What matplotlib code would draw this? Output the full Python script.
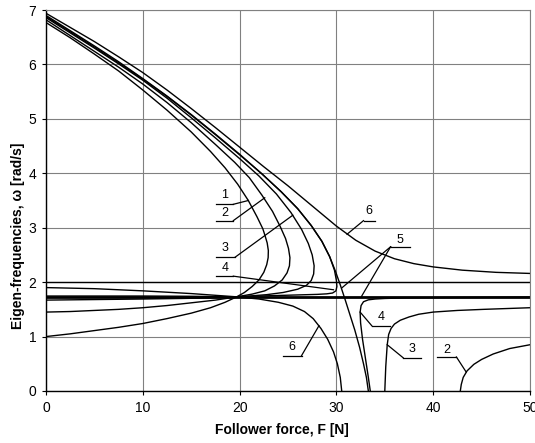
import matplotlib
matplotlib.use("Agg")
import matplotlib.pyplot as plt

plt.rcParams['font.family'] = ['Liberation Sans', 'DejaVu Sans']

# curves: follower force F [N] -> eigen-frequency w [rad/s]
# case 1..4: upper branch runs into a flutter loop and comes back as lower branch
case1_F = [0, 2.5, 5, 7.5, 10, 12.5, 15, 17, 18.5, 19.8, 20.9, 21.8, 22.4, 22.6, 22.85, 22.97,
           22.95, 22.8, 22.5, 22.0, 21.3, 20.5, 19.7, 18.5, 17, 15, 12.5, 10, 7.5, 5, 2.5, 0]
case1_w = [6.77, 6.49, 6.19, 5.88, 5.53, 5.16, 4.76, 4.40, 4.1, 3.8, 3.5, 3.2, 2.98, 2.87, 2.72, 2.58,
           2.45, 2.32, 2.18, 2.04, 1.92, 1.81, 1.73, 1.63, 1.53, 1.43, 1.33, 1.24, 1.17, 1.11, 1.05, 1.0]

case2_F = [0, 2.5, 5, 7.5, 10, 12.5, 15, 17.5, 19.5, 21, 22.3, 23.4, 24.2, 24.75, 25.05, 25.2,
           25.15, 24.9, 24.4, 23.6, 22.6, 21.3, 19.7, 17.5, 15, 12.5, 10, 7.5, 5, 2.5, 0]
case2_w = [6.82, 6.53, 6.24, 5.95, 5.64, 5.30, 4.93, 4.53, 4.2, 3.92, 3.6, 3.3, 3.02, 2.8, 2.62, 2.45,
           2.3, 2.17, 2.04, 1.93, 1.84, 1.78, 1.73, 1.67, 1.62, 1.57, 1.53, 1.50, 1.48, 1.46, 1.45]
case2b_F = [42.8, 42.9, 43.1, 43.5, 44.2, 45, 46.2, 47.9, 50]
case2b_w = [0, 0.12, 0.25, 0.37, 0.49, 0.58, 0.68, 0.78, 0.85]

case3_F = [0, 2.5, 5, 7.5, 10, 12.5, 15, 17.5, 20, 22, 23.8, 25.3, 26.4, 27.1, 27.5, 27.7,
           27.65, 27.4, 26.9, 26.0, 24.5, 22.8, 21, 19.7, 17, 14, 10, 5, 0]
case3_w = [6.86, 6.58, 6.30, 6.01, 5.71, 5.38, 5.02, 4.65, 4.27, 3.95, 3.62, 3.28, 2.97, 2.71, 2.5, 2.3,
           2.15, 2.03, 1.94, 1.87, 1.81, 1.77, 1.745, 1.73, 1.71, 1.70, 1.69, 1.68, 1.67]
case3b_F = [35.0, 35.1, 35.25, 35.4, 35.65, 36, 36.6, 37.5, 38.5, 40, 42.5, 45.2, 50]
case3b_w = [0, 0.45, 0.85, 1.04, 1.15, 1.23, 1.30, 1.36, 1.41, 1.45, 1.48, 1.50, 1.53]

case4_F = [0, 2.5, 5, 7.5, 10, 12.5, 15, 17.5, 20, 22.3, 24.3, 26.0, 27.4, 28.5, 29.3, 29.8, 30.0,
           30.05, 29.95, 29.6, 29, 28, 26, 23, 19.7, 15, 10, 5, 0]
case4_w = [6.88, 6.60, 6.32, 6.03, 5.73, 5.41, 5.07, 4.71, 4.34, 3.99, 3.66, 3.35, 3.04, 2.75, 2.47, 2.22, 2.03,
           1.92, 1.84, 1.80, 1.785, 1.775, 1.765, 1.75, 1.73, 1.74, 1.745, 1.745, 1.745]
case4b_F = [33.5, 33.3, 33.0, 32.7, 32.5, 32.45, 32.55, 32.8, 33.3, 34, 35, 37, 40, 45, 50]
case4b_w = [0, 0.25, 0.6, 0.95, 1.25, 1.45, 1.57, 1.64, 1.675, 1.69, 1.70, 1.71, 1.715, 1.72, 1.725]

case5_F = [0, 2.5, 5, 7.5, 10, 12.5, 15, 17.5, 20, 22.3, 24.3, 26.0, 27.4, 28.5, 29.3, 29.9,
           30.4, 30.9, 31.4, 31.9, 32.4, 32.8, 33.1, 33.3]
case5_w = [6.90, 6.62, 6.34, 6.05, 5.74, 5.42, 5.08, 4.72, 4.35, 3.99, 3.66, 3.35, 3.04, 2.75, 2.47, 2.2,
           1.95, 1.68, 1.4, 1.12, 0.8, 0.5, 0.25, 0]

case6_F = [0, 2.5, 5, 7.5, 10, 12.5, 15, 17.5, 20, 22.5, 25, 27.5, 30, 32, 34, 36, 38, 40, 43, 46.5, 50]
case6_w = [6.94, 6.68, 6.42, 6.14, 5.85, 5.53, 5.19, 4.84, 4.48, 4.12, 3.77, 3.40, 3.03, 2.77, 2.57,
           2.43, 2.34, 2.28, 2.22, 2.18, 2.16]
case6b_F = [0, 5, 10, 15, 19.7, 22, 24, 25.5, 26.7, 27.6, 28.4, 29.1, 29.7, 30.1, 30.4, 30.55]
case6b_w = [1.90, 1.88, 1.84, 1.79, 1.73, 1.69, 1.63, 1.56, 1.46, 1.33, 1.15, 0.95, 0.72, 0.5, 0.25, 0]

# frequencies that do not depend on F
flat_F = [0, 50]
flat_hi_w = [2.0, 2.0]
flat_lo_w = [1.73, 1.73]

# curve labels: text, text position, underline span, leader end points
label_text = ['1', '2', '3', '4', '6', '5', '4', '3', '2', '6']
label_xy = [(18.4, 3.60), (18.5, 3.27), (18.5, 2.62), (18.5, 2.26), (33.4, 3.30),
            (36.6, 2.78), (34.6, 1.36), (37.8, 0.77), (41.4, 0.75), (25.4, 0.81)]
under_F = [(17.6, 19.35), (17.6, 19.35), (17.6, 19.55), (17.6, 19.35), (32.8, 34.0),
           (35.6, 37.6), (33.65, 35.5), (36.9, 38.7), (40.4, 42.4), (24.5, 26.4)]
under_w = [3.43, 3.13, 2.46, 2.11, 3.13, 2.65, 1.20, 0.61, 0.625, 0.65]
leader_from = ['r', 'r', 'r', 'r', 'l', 'l', 'l', 'l', 'r', 'r']
leader_to = [[(20.9, 3.5)], [(22.6, 3.55)], [(25.5, 3.23)], [(29.7, 1.86)], [(31.1, 2.88)],
             [(30.6, 1.9), (32.6, 1.74)], [(32.45, 1.45)], [(35.25, 0.85)], [(43.4, 0.35)],
             [(28.2, 1.2)]]

fig = plt.figure(figsize=(5.35, 4.43), dpi=100)
ax = fig.add_axes([46 / 535, 1 - 391 / 443, 484 / 535, 381 / 443])

ax.set_xlim(0, 50)
ax.set_ylim(0, 7)
ax.set_xticks(range(0, 51, 10))
ax.set_yticks(range(0, 8))
ax.grid(True, color='#808080', lw=0.8)
ax.set_axisbelow(True)
for s in ['top', 'right']:
    ax.spines[s].set_color('#808080')
    ax.spines[s].set_linewidth(0.8)
for s in ['left', 'bottom']:
    ax.spines[s].set_linewidth(1.0)
ax.tick_params(length=3, width=0.8, labelsize=10, pad=4)

lw = 1.0
for F, w in [(case1_F, case1_w), (case2_F, case2_w), (case2b_F, case2b_w),
             (case3_F, case3_w), (case3b_F, case3b_w), (case4_F, case4_w),
             (case4b_F, case4b_w), (case5_F, case5_w), (case6_F, case6_w),
             (case6b_F, case6b_w), (flat_F, flat_hi_w)]:
    ax.plot(F, w, color='black', lw=lw, solid_joinstyle='round')
ax.plot(flat_F, flat_lo_w, color='black', lw=2.0)

for i, t in enumerate(label_text):
    ax.text(label_xy[i][0], label_xy[i][1], t, fontsize=9, ha='center', va='center')
    f0, f1 = under_F[i]
    ax.plot([f0, f1], [under_w[i], under_w[i]], color='black', lw=0.9)
    start = f1 if leader_from[i] == 'r' else f0
    for (fe, we) in leader_to[i]:
        ax.plot([start, fe], [under_w[i], we], color='black', lw=0.9)

ax.set_xlabel('Follower force, F [N]', fontsize=10, fontweight='bold')
ax.set_ylabel('Eigen-frequencies, \u03c9 [rad/s]', fontsize=10, fontweight='bold')
ax.xaxis.set_label_coords(0.487, -0.085)
ax.yaxis.set_label_coords(-0.044, 0.407)

fig.savefig('out.png', dpi=100)
